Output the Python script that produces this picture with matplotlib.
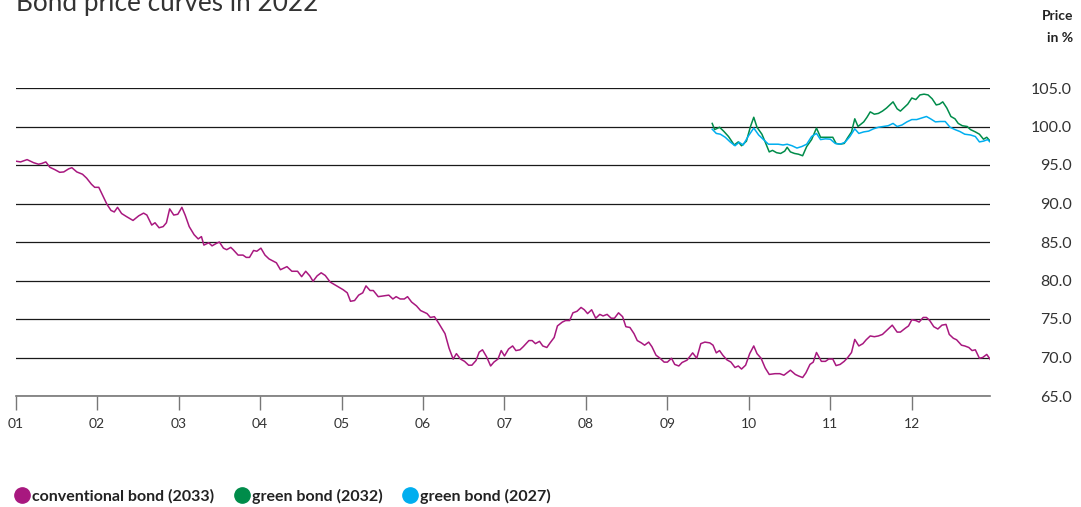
import matplotlib
matplotlib.use('Agg')
import matplotlib.pyplot as plt
from matplotlib.lines import Line2D

plt.rcParams['font.family'] = ['Lato', 'DejaVu Sans']

# x values: months since 1 Jan 2022 (0 = start of January)
conv_month = [0.00, 0.06, 0.14, 0.22, 0.28, 0.32, 0.37, 0.42, 0.48, 0.54, 0.59, 0.65, 0.69, 0.75,
              0.82, 0.87, 0.93, 0.97, 1.02, 1.07, 1.12, 1.17, 1.21, 1.25, 1.30, 1.36, 1.44, 1.51,
              1.57, 1.61, 1.67, 1.71, 1.76, 1.81, 1.85, 1.89, 1.94, 1.99, 2.04, 2.08, 2.13, 2.19,
              2.24, 2.28, 2.31, 2.37, 2.41, 2.46, 2.50, 2.55, 2.59, 2.64, 2.67, 2.73, 2.79, 2.83,
              2.87, 2.92, 2.96, 3.01, 3.06, 3.11, 3.20, 3.25, 3.33, 3.39, 3.46, 3.51, 3.56, 3.61,
              3.65, 3.70, 3.75, 3.80, 3.86, 3.94, 4.02, 4.07, 4.11, 4.16, 4.21, 4.26, 4.30, 4.35,
              4.39, 4.45, 4.52, 4.58, 4.63, 4.67, 4.72, 4.77, 4.81, 4.86, 4.92, 4.97, 5.05, 5.09,
              5.14, 5.19, 5.27, 5.32, 5.37, 5.41, 5.46, 5.51, 5.56, 5.60, 5.65, 5.69, 5.73, 5.78,
              5.83, 5.87, 5.92, 5.96, 6.00, 6.05, 6.10, 6.14, 6.19, 6.23, 6.30, 6.34, 6.38, 6.43,
              6.47, 6.52, 6.56, 6.61, 6.65, 6.71, 6.75, 6.80, 6.84, 6.89, 6.94, 6.98, 7.02, 7.07,
              7.12, 7.17, 7.21, 7.26, 7.31, 7.35, 7.40, 7.45, 7.49, 7.54, 7.59, 7.63, 7.68, 7.72,
              7.77, 7.81, 7.86, 7.91, 7.96, 8.00, 8.05, 8.09, 8.14, 8.18, 8.24, 8.31, 8.36, 8.41,
              8.46, 8.52, 8.56, 8.60, 8.64, 8.68, 8.73, 8.78, 8.83, 8.87, 8.91, 8.96, 9.01, 9.06,
              9.10, 9.15, 9.20, 9.25, 9.32, 9.38, 9.43, 9.51, 9.57, 9.61, 9.66, 9.70, 9.75, 9.79,
              9.83, 9.89, 9.94, 9.98, 10.03, 10.07, 10.12, 10.17, 10.21, 10.26, 10.30, 10.35,
              10.40, 10.44, 10.49, 10.54, 10.59, 10.64, 10.69, 10.76, 10.82, 10.86, 10.92, 10.96,
              11.00, 11.05, 11.09, 11.14, 11.18, 11.22, 11.27, 11.32, 11.37, 11.42, 11.46, 11.51,
              11.55, 11.61, 11.65, 11.70, 11.74, 11.78, 11.83, 11.87, 11.92, 11.97]
conv_price = [95.5, 95.4, 95.7, 95.3, 95.1, 95.2, 95.4, 94.7, 94.4, 94.05, 94.1, 94.5, 94.65, 94.1,
              93.8, 93.3, 92.5, 92.1, 92.1, 91.0, 89.9, 89.1, 88.9, 89.5, 88.7, 88.3, 87.8, 88.4,
              88.75, 88.5, 87.2, 87.5, 86.85, 87.0, 87.5, 89.3, 88.5, 88.6, 89.5, 88.5, 87.0, 85.95,
              85.4, 85.7, 84.6, 84.9, 84.5, 84.8, 85.0, 84.2, 84.0, 84.3, 84.0, 83.3, 83.3, 83.0,
              83.0, 83.9, 83.8, 84.2, 83.3, 82.8, 82.3, 81.4, 81.8, 81.2, 81.2, 80.5, 81.2, 80.6,
              79.9, 80.6, 81.0, 80.65, 79.8, 79.3, 78.8, 78.4, 77.3, 77.4, 78.1, 78.4, 79.3, 78.7,
              78.7, 77.9, 78.0, 78.1, 77.6, 77.9, 77.6, 77.6, 77.9, 77.2, 76.7, 76.1, 75.7, 75.2,
              75.3, 74.5, 73.1, 71.2, 69.8, 70.5, 69.8, 69.5, 69.0, 69.0, 69.6, 70.7, 71.0, 70.1,
              68.9, 69.4, 69.8, 70.9, 70.2, 71.1, 71.5, 70.9, 71.0, 71.4, 72.2, 72.2, 71.8, 72.1,
              71.5, 71.3, 71.9, 72.6, 74.1, 74.6, 74.8, 74.8, 75.8, 76.0, 76.5, 76.2, 75.7, 76.2,
              75.1, 75.6, 75.4, 75.6, 75.1, 75.1, 75.8, 75.3, 74.0, 73.9, 73.1, 72.2, 71.9, 71.6,
              72.0, 71.4, 70.3, 69.9, 69.4, 69.4, 69.9, 69.1, 68.9, 69.35, 69.65, 70.6, 69.9, 71.8,
              72.0, 71.9, 71.6, 70.6, 70.9, 70.3, 69.7, 69.4, 68.7, 68.9, 68.5, 69.0, 70.5, 71.5,
              70.5, 69.9, 68.65, 67.8, 67.9, 67.9, 67.7, 68.35, 67.8, 67.6, 67.4, 68.0, 69.1, 69.4,
              70.65, 69.5, 69.5, 69.8, 69.8, 68.95, 69.1, 69.5, 69.95, 70.65, 72.35, 71.5,
              71.8, 72.3, 72.8, 72.7, 72.8, 73.0, 73.5, 74.2, 73.3, 73.3, 73.8, 74.1,
              74.9, 74.8, 74.6, 75.2, 75.2, 74.8, 74.0, 73.7, 74.2, 74.3, 73.0, 72.5,
              72.3, 71.6, 71.5, 71.3, 70.9, 71.0, 69.9, 70.0, 70.4, 69.65]

green32_month = [8.55, 8.58, 8.64, 8.69, 8.75, 8.82, 8.87, 8.91, 8.97, 9.02, 9.06, 9.10, 9.16, 9.20,
                 9.25, 9.29, 9.34, 9.39, 9.44, 9.47, 9.51, 9.56, 9.61, 9.66, 9.71, 9.77, 9.83, 9.88,
                 9.92, 9.98, 10.03, 10.07, 10.12, 10.17, 10.21, 10.26, 10.30, 10.34, 10.41, 10.45,
                 10.49, 10.54, 10.59, 10.64, 10.69, 10.77, 10.82, 10.86, 10.91, 10.95, 11.00, 11.05,
                 11.10, 11.15, 11.20, 11.25, 11.30, 11.34, 11.38, 11.43, 11.48, 11.53, 11.57, 11.62,
                 11.68, 11.72, 11.78, 11.83, 11.88, 11.92, 11.97]
green32_price = [100.4, 99.6, 99.9, 99.4, 98.7, 97.6, 98.0, 97.5, 98.1, 100.0, 101.2, 99.9, 99.0, 98.0,
                 96.7, 96.9, 96.6, 96.5, 96.8, 97.3, 96.7, 96.5, 96.4, 96.2, 97.4, 98.3, 99.8, 98.6,
                 98.6, 98.6, 98.6, 97.8, 97.7, 97.8, 98.5, 99.3, 101.0, 100.0, 100.6, 101.2,
                 101.9, 101.6, 101.7, 102.0, 102.4, 103.2, 102.3, 102.0, 102.5, 102.9, 103.7, 103.5,
                 104.1, 104.2, 104.1, 103.6, 102.8, 102.9, 103.2, 102.4, 101.3, 101.0, 100.4, 100.1,
                 100.0, 99.6, 99.3, 99.0, 98.35, 98.6, 98.0]

green27_month = [8.55, 8.60, 8.65, 8.71, 8.77, 8.83, 8.88, 8.93, 8.99, 9.06, 9.12, 9.18, 9.24, 9.30,
                 9.36, 9.42, 9.47, 9.53, 9.59, 9.65, 9.71, 9.77, 9.83, 9.88, 9.94, 10.00, 10.06,
                 10.12, 10.18, 10.24, 10.30, 10.35, 10.41, 10.47, 10.53, 10.59, 10.65, 10.71, 10.77,
                 10.82, 10.88, 10.94, 11.00, 11.06, 11.12, 11.18, 11.23, 11.29, 11.35, 11.41, 11.47,
                 11.53, 11.59, 11.65, 11.72, 11.78, 11.83, 11.88, 11.93, 11.97]
green27_price = [99.65, 99.1, 99.0, 98.6, 98.0, 97.5, 97.95, 97.6, 98.7, 99.8, 98.9, 98.3, 97.7, 97.7,
                 97.7, 97.6, 97.7, 97.5, 97.2, 97.4, 97.7, 98.7, 99.1, 98.3, 98.4, 98.35, 97.8,
                 97.7, 97.95, 98.7, 99.7, 99.1, 99.3, 99.4, 99.7, 99.9, 100.0, 100.1, 100.4,
                 100.0, 100.2, 100.6, 100.9, 100.9, 101.1, 101.3, 101.0, 100.6, 100.65, 100.65, 99.9,
                 99.6, 99.35, 99.0, 98.9, 98.7, 98.0, 98.1, 98.3, 97.9]

month_labels = ['01', '02', '03', '04', '05', '06', '07', '08', '09', '10', '11', '12']
y_ticks = [65, 70, 75, 80, 85, 90, 95, 100, 105]
series_names = ['conventional bond (2033)', 'green bond (2032)', 'green bond (2027)']
colors = ['#A8187F', '#008C4A', '#00AEEF']

fig = plt.figure(figsize=(10.81, 5.07), dpi=100)
ax = fig.add_axes([15.7 / 1081, 1 - 396 / 507, (990 - 15.7) / 1081, 308 / 507])

ax.plot(conv_month, conv_price, color=colors[0], lw=1.1, zorder=3)
ax.plot(green32_month, green32_price, color=colors[1], lw=1.1, zorder=3)
ax.plot(green27_month, green27_price, color=colors[2], lw=1.1, zorder=4)

ax.set_xlim(0, 11.96)
ax.set_ylim(65, 105)

ax.set_yticks(y_ticks)
ax.set_yticklabels(['%.1f' % v for v in y_ticks])
ax.yaxis.tick_right()
ax.tick_params(axis='y', length=0, pad=59, labelsize=11.5, labelcolor='#333333')
for lab in ax.get_yticklabels():
    lab.set_horizontalalignment('right')
ax.yaxis.grid(True, color='#1a1a1a', lw=0.9)

ax.set_xticks(range(12))
ax.set_xticklabels(month_labels)
ax.tick_params(axis='x', length=10, width=1, color='#777777', pad=6,
               labelsize=10, labelcolor='#333333')

for s in ['left', 'right', 'top']:
    ax.spines[s].set_visible(False)
ax.spines['bottom'].set_color('#777777')
ax.spines['bottom'].set_linewidth(1.2)

# title sits partly above the top edge, as in the original
fig.text(16 / 1081, 1 - 11 / 507, 'Bond price curves in 2022', fontsize=18.8,
         fontweight='normal', color='#333333', va='baseline', ha='left')
fig.text(1073 / 1081, 1 - 16 / 507, 'Price', fontsize=10, fontweight='bold',
         color='#222222', ha='right', va='center')
fig.text(1073 / 1081, 1 - 38 / 507, 'in %', fontsize=10, fontweight='bold',
         color='#222222', ha='right', va='center')

handles = [Line2D([], [], ls='none', marker='o', markersize=11, color=c) for c in colors]
fig.legend(handles, series_names, loc='center left', bbox_to_anchor=(0.003, 1 - 496 / 507),
           ncol=3, frameon=False, handlelength=0.6, handletextpad=0.3, columnspacing=1.45,
           prop={'size': 11.5, 'weight': 'bold'}, labelcolor='#222222')

fig.savefig('out.png', dpi=100)
